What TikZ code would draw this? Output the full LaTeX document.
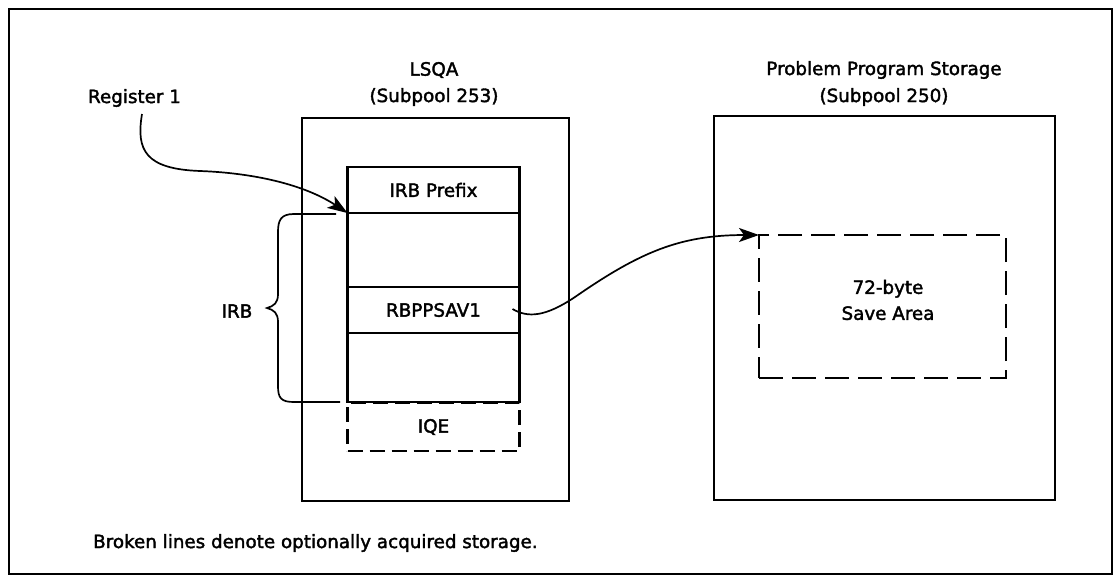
\documentclass[tikz,border=0pt]{standalone}
\usepackage{fontspec}
\setmainfont{DejaVu Sans}[FakeBold=2]
\usetikzlibrary{arrows.meta,calc}
\begin{document}
\begin{tikzpicture}[x=1pt,y=-1pt,
  every node/.style={font=\fontsize{18.3}{21}\selectfont},
  solidbox/.style={draw, line width=2.3pt, inner sep=0pt, outer sep=0pt},
  rowbox/.style={draw, line width=2.3pt, inner sep=0pt, outer sep=0pt, minimum width=172pt},
  optbox/.style={draw, line width=2.3pt, inner sep=0pt, outer sep=0pt, dash pattern=on 15pt off 7pt},
  savebox/.style={draw, line width=2.3pt, inner sep=0pt, outer sep=0pt, dash pattern=on 24pt off 9pt},
  label/.style={inner sep=0pt, align=center},
  pointer/.style={line width=1.7pt, -{Stealth[length=20pt,width=14pt,inset=5pt]}},
  bracestyle/.style={line width=1.7pt}
]
\useasboundingbox (0,0) rectangle (1115,576);
% outer frame
\draw[line width=2.3pt] (9,9) rectangle (1112,574);

% LSQA area
\node[solidbox, minimum width=267pt, minimum height=383pt] (lsqa) at (435.5,309.5) {};
\node[label] (lsqatitle) at (434,70) {LSQA};
\node[label] (lsqasub) at (434,97) {(Subpool 253)};

% IRB stack
\node[rowbox, minimum height=46pt] (prefix) at (433.5,190) {IRB Prefix};
\node[rowbox, minimum height=74pt] (blank1) at (433.5,250) {};
\node[rowbox, minimum height=46pt] (rbp) at (433.5,310) {RBPPSAV1};
\node[rowbox, minimum height=69pt] (blank2) at (433.5,367.5) {};
\node[optbox, minimum width=172pt, minimum height=48pt] (iqe) at (433.5,427) {IQE};

% Problem program storage
\node[solidbox, minimum width=341pt, minimum height=384pt] (pps) at (884.5,308) {};
\node[label] (ppstitle) at (884,70) {Problem Program Storage};
\node[label] (ppssub) at (884,97) {(Subpool 250)};
\node[savebox, minimum width=247pt, minimum height=143pt, align=center] (save) at (882.5,306.5) {};
\node[label] (savetext) at (888,300) {72-byte\\[5pt]Save Area};

% register 1 pointer
\node[label] (reg) at (134.5,98) {Register 1};
\coordinate (regstart) at (142,114);
\draw[pointer] (regstart) .. controls (136,150) and (145,169) .. (200,171)
  .. controls (255,173) and (305,185) .. (prefix.south west);

% save area pointer
\coordinate (savestart) at ($(rbp.east)+(-7,-1)$);
\draw[pointer] (savestart) .. controls (528,318) and (545,317) .. (575,297)
  .. controls (640,252) and (680,235) .. (save.north west);

% IRB brace
\node[label] (irb) at (237,311) {IRB};
\draw[bracestyle] (336,214) -- (294,214) .. controls (281,214) and (278,220) .. (278,232)
  -- (278,294) .. controls (278,303) and (274,306) .. (267,308)
  .. controls (274,310) and (278,313) .. (278,322)
  -- (278,386) .. controls (278,398) and (281,402) .. (294,402) -- (340,402);

% note
\node[label, anchor=west] (note) at (93,543) {Broken lines denote optionally acquired storage.};
\end{tikzpicture}
\end{document}
